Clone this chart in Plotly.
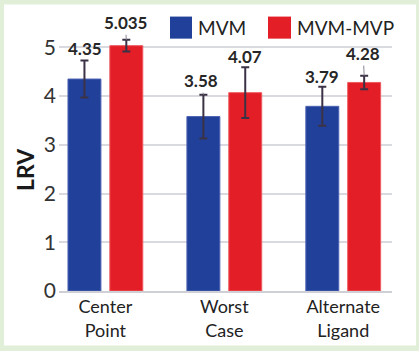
import plotly.graph_objects as go

categories = ["Center<br>Point", "Worst<br>Case", "Alternate<br>Ligand"]
series_names = ["MVM", "MVM-MVP"]
mvm_values = [4.35, 3.58, 3.79]
mvm_errors = [0.38, 0.45, 0.40]
mvp_values = [5.035, 4.07, 4.28]
mvp_errors = [0.12, 0.52, 0.14]
mvm_labels = ["4.35", "3.58", "3.79"]
mvp_labels = ["5.035", "4.07", "4.28"]
y_ticks = [0, 1, 2, 3, 4, 5]

W, H = 419, 351
L, R, T, B = 59, 392, 23.4, 290.7
YMAX = 5.5
FONT = "Lato"
BLUE = "#21409a"
RED = "#e31e26"
ERR = "#3b3246"

def px(x):
    return (x - L) / (R - L)

def py(y):
    return (B - y) / (B - T)

xs = list(range(len(categories)))
bw = 0.277
off = 0.176

fig = go.Figure()
fig.add_trace(go.Bar(
    x=xs, y=mvm_values, name=series_names[0], width=bw, offset=-off - bw / 2,
    marker=dict(color=BLUE, line=dict(color="#4d62b3", width=1)),
    error_y=dict(type="data", array=mvm_errors, color=ERR, thickness=2, width=4),
))
fig.add_trace(go.Bar(
    x=xs, y=mvp_values, name=series_names[1], width=bw, offset=off - bw / 2,
    marker=dict(color=RED, line=dict(color="#ee5a5f", width=1)),
    error_y=dict(type="data", array=mvp_errors, color=ERR, thickness=2, width=4),
))

# value labels with leader lines: (ax, ay) pixel offsets
mvm_offsets = [(1, -12), (-2, -14), (0, -10)]
mvp_offsets = [(-1, -17), (0, -11), (-1, -22)]
annotations = []
for i in xs:
    for vals, errs, labs, offs, sign in [
        (mvm_values, mvm_errors, mvm_labels, mvm_offsets, -1),
        (mvp_values, mvp_errors, mvp_labels, mvp_offsets, 1),
    ]:
        annotations.append(dict(
            x=i + sign * off, y=vals[i] + errs[i], xref="x", yref="y",
            text="<b>" + labs[i] + "</b>", showarrow=True, arrowhead=0,
            arrowwidth=1, arrowcolor="#8a8593", ax=offs[i][0], ay=offs[i][1],
            font=dict(family=FONT, size=17, color="#262626"),
        ))

# y title
annotations.append(dict(
    x=px(25), y=py(170), xref="paper", yref="paper", text="<b>LRV</b>",
    xanchor="center", yanchor="middle",
    textangle=-90, showarrow=False, font=dict(family=FONT, size=23, color="#1a1a1a"),
))

# custom legend
shapes = [
    dict(type="rect", xref="paper", yref="paper", x0=px(4), x1=px(416),
         y0=py(345), y1=py(5), fillcolor="white", line=dict(width=0), layer="below"),
    dict(type="rect", xref="paper", yref="paper", x0=px(170), x1=px(192),
         y0=py(39), y1=py(17), fillcolor=BLUE, line=dict(width=0)),
    dict(type="rect", xref="paper", yref="paper", x0=px(268), x1=px(291),
         y0=py(39), y1=py(17), fillcolor=RED, line=dict(width=0)),
]
for name, x0 in [(series_names[0], 196), (series_names[1], 295)]:
    annotations.append(dict(
        x=px(x0), y=py(28), xref="paper", yref="paper", text=name,
        xanchor="left", yanchor="middle", showarrow=False,
        font=dict(family=FONT, size=19, color="#222222"),
    ))

fig.update_layout(
    width=W, height=H,
    margin=dict(l=L, r=W - R, t=T, b=H - B, pad=0, autoexpand=False),
    paper_bgcolor="#e1efd8", plot_bgcolor="rgba(0,0,0,0)",
    showlegend=False, barmode="overlay",
    xaxis=dict(range=[-0.39, 2.41], tickvals=xs, ticktext=categories, automargin=False,
               showgrid=False, zeroline=False, showline=True, linecolor="#cfcfd6",
               linewidth=1.5, ticks="", ticklabelstandoff=-1,
               tickfont=dict(family=FONT, size=18, color="#222222")),
    yaxis=dict(range=[0, YMAX], tickvals=y_ticks, showgrid=True, gridcolor="#d9d9e0",
               gridwidth=1.5, zeroline=False, ticks="", ticklabelstandoff=2, automargin=False,
               tickfont=dict(family=FONT, size=21, color="#333333")),
    annotations=annotations, shapes=shapes,
)

fig.write_html("out.html")
